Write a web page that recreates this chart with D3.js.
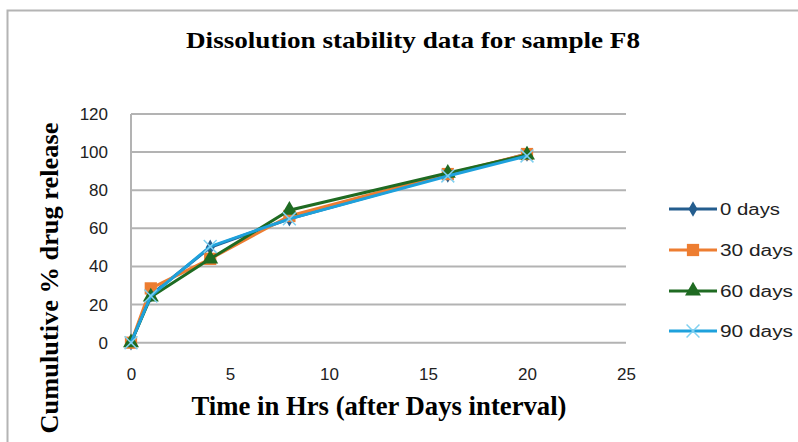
<!DOCTYPE html>
<html>
<head>
<meta charset="utf-8">
<script src="https://cdn.jsdelivr.net/npm/d3@7"></script>
<style>
  body { margin: 0; background: #fff; }
  svg { display: block; }
  .tick text { font-family: "Liberation Sans", Arial, sans-serif; font-size: 17px; fill: #222; }
</style>
</head>
<body>
<div id="chart"></div>
<script>
// data
var hours = [0, 1, 4, 8, 16, 20];
var days0 = [0, 25, 50, 65, 88, 99];
var days30 = [0, 28.5, 44, 66.5, 88.5, 99];
var days60 = [0, 24, 44, 69.5, 89, 98.5];
var days90 = [0, 24.5, 50.5, 65, 87.5, 98];
var seriesNames = ["0 days", "30 days", "60 days", "90 days"];
var xTicks = [0, 5, 10, 15, 20, 25];
var yTicks = [0, 20, 40, 60, 80, 100, 120];

var W = 798, H = 442;
var plot = {left: 131, right: 626, top: 114, bottom: 342.7};

var series = [
  {name: seriesNames[0], values: days0, color: "#245d8e", symbol: d3.symbolDiamond, size: 70},
  {name: seriesNames[1], values: days30, color: "#ed7d31", symbol: d3.symbolSquare, size: 150},
  {name: seriesNames[2], values: days60, color: "#1f6b22", symbol: d3.symbolTriangle, size: 110},
  {name: seriesNames[3], values: days90, color: "#1ea1dc", symbol: d3.symbolX, size: 110}
];

var svg = d3.select("#chart").append("svg")
  .attr("width", W)
  .attr("height", H);

// chart frame
svg.append("rect")
  .attr("x", 7.5).attr("y", 10.5)
  .attr("width", 820).attr("height", 460)
  .attr("fill", "none")
  .attr("stroke", "#b4b4b4")
  .attr("stroke-width", 2);

var x = d3.scaleLinear().domain([0, 25]).range([plot.left, plot.right]);
var y = d3.scaleLinear().domain([0, 120]).range([plot.bottom, plot.top]);

// gridlines
svg.append("g")
  .selectAll("line")
  .data(yTicks)
  .enter()
  .append("line")
    .attr("x1", plot.left).attr("x2", plot.right)
    .attr("y1", function(d) { return y(d); })
    .attr("y2", function(d) { return y(d); })
    .attr("stroke", "#b3b3b3")
    .attr("stroke-width", 2);

// vertical axis line
svg.append("line")
  .attr("x1", plot.left).attr("x2", plot.left)
  .attr("y1", plot.top).attr("y2", plot.bottom)
  .attr("stroke", "#b3b3b3")
  .attr("stroke-width", 2);

// axes (labels only)
var yAxis = svg.append("g")
  .attr("transform", "translate(" + (plot.left - 20) + ",0)")
  .call(d3.axisLeft(y).tickValues(yTicks).tickSize(0));
yAxis.select(".domain").remove();

var xAxis = svg.append("g")
  .attr("transform", "translate(0," + (plot.bottom + 22) + ")")
  .call(d3.axisBottom(x).tickValues(xTicks).tickSize(0));
xAxis.select(".domain").remove();

// lines + markers
var line = d3.line()
  .x(function(d, i) { return x(hours[i]); })
  .y(function(d) { return y(d); });

series.forEach(function(s) {
  var g = svg.append("g");
  g.append("path")
    .attr("d", line(s.values))
    .attr("fill", "none")
    .attr("stroke", s.color)
    .attr("stroke-width", 3);
  g.selectAll("path.mark")
    .data(s.values)
    .enter()
    .append("path")
      .attr("class", "mark")
      .attr("transform", function(d, i) { return "translate(" + x(hours[i]) + "," + y(d) + ")"; })
      .attr("d", d3.symbol().type(s.symbol).size(s.size))
      .attr("fill", s.symbol === d3.symbolX ? "none" : s.color)
      .attr("stroke", s.symbol === d3.symbolX ? "#7fd0f0" : "none")
      .attr("stroke-width", 1.5);
});

// legend
var legendY = [209, 250, 291, 331];
var legendLen = [60, 73, 73, 73];
series.forEach(function(s, i) {
  var g = svg.append("g").attr("transform", "translate(669," + legendY[i] + ")");
  g.append("line")
    .attr("x1", 0).attr("x2", 48)
    .attr("stroke", s.color)
    .attr("stroke-width", 3);
  g.append("path")
    .attr("transform", "translate(24,0)")
    .attr("d", d3.symbol().type(s.symbol).size(s.size))
    .attr("fill", s.symbol === d3.symbolX ? "none" : s.color)
    .attr("stroke", s.symbol === d3.symbolX ? "#7fd0f0" : "none")
    .attr("stroke-width", 1.5);
  g.append("text")
    .attr("x", 51).attr("y", 6)
    .attr("font-family", "Liberation Sans, Arial, sans-serif")
    .attr("font-size", 16)
    .attr("fill", "#222")
    .attr("textLength", legendLen[i])
    .attr("lengthAdjust", "spacingAndGlyphs")
    .text(s.name);
});

// title
svg.append("text")
  .attr("x", 413).attr("y", 48)
  .attr("text-anchor", "middle")
  .attr("font-family", "Liberation Serif, Times New Roman, serif")
  .attr("font-weight", "bold")
  .attr("font-size", 24)
  .attr("textLength", 454)
  .attr("lengthAdjust", "spacingAndGlyphs")
  .text("Dissolution stability data for sample F8");

// x axis title
svg.append("text")
  .attr("x", 379).attr("y", 415)
  .attr("text-anchor", "middle")
  .attr("font-family", "Liberation Serif, Times New Roman, serif")
  .attr("font-weight", "bold")
  .attr("font-size", 27)
  .attr("textLength", 375)
  .attr("lengthAdjust", "spacingAndGlyphs")
  .text("Time in Hrs (after Days interval)");

// y axis title
svg.append("text")
  .attr("transform", "translate(58,278) rotate(-90)")
  .attr("text-anchor", "middle")
  .attr("font-family", "Liberation Serif, Times New Roman, serif")
  .attr("font-weight", "bold")
  .attr("font-size", 26)
  .attr("textLength", 311)
  .attr("lengthAdjust", "spacingAndGlyphs")
  .text("Cumulutive % drug release");
</script>
</body>
</html>
